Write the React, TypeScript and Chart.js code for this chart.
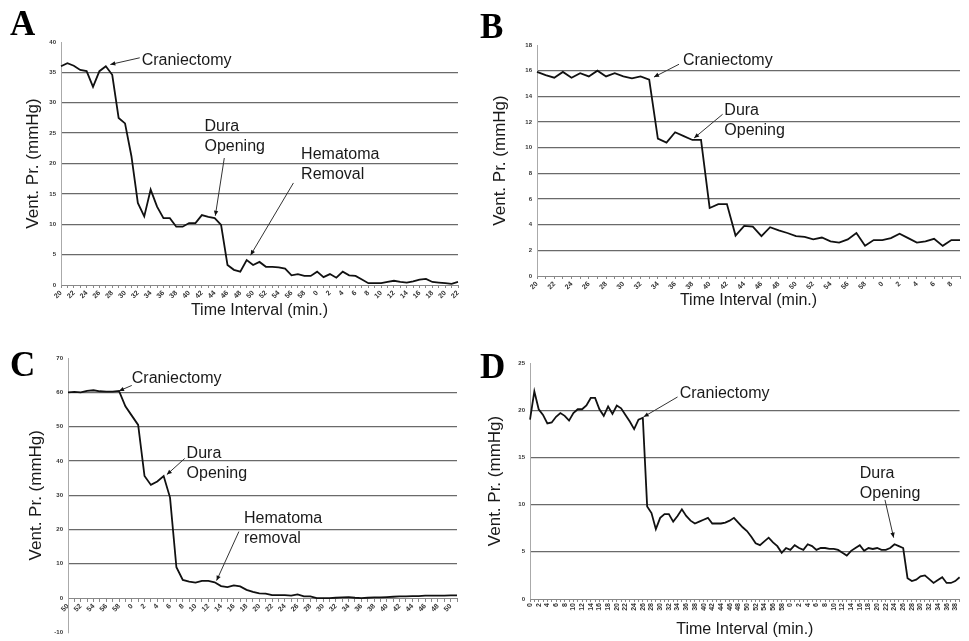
import React, { useEffect, useRef } from 'react';
import { Chart, registerables } from 'chart.js';

Chart.register(...registerables);

// ---------- data ----------
const A_MINUTES = [20,21,22,23,24,25,26,27,28,29,30,31,32,33,34,35,36,37,38,39,40,41,42,43,44,45,46,47,48,49,50,51,52,53,54,55,56,57,58,59,0,1,2,3,4,5,6,7,8,9,10,11,12,13,14,15,16,17,18,19,20,21,22];
const A_VALUES = [36.0,36.5,36.1,35.4,35.2,32.6,35.2,36.0,34.6,27.5,
  26.6,21.2,13.5,11.3,15.7,12.9,11.0,11.0,9.6,9.6,
  10.2,10.2,11.5,11.2,11.0,9.9,3.3,2.5,2.2,4.1,
  3.3,3.8,3.0,3.0,2.9,2.7,1.6,1.8,1.5,1.5,
  2.2,1.3,1.8,1.2,2.2,1.6,1.5,0.9,0.3,0.3,
  0.3,0.5,0.7,0.5,0.4,0.6,0.9,1.0,0.5,0.4,
  0.3,0.2,0.5];
const A_Y_TICKS = [0,5,10,15,20,25,30,35,40];

const B_MINUTES = [20,21,22,23,24,25,26,27,28,29,30,31,32,33,34,35,36,37,38,39,40,41,42,43,44,45,46,47,48,49,50,51,52,53,54,55,56,57,58,59,0,1,2,3,4,5,6,7,8,9];
const B_VALUES = [15.9,15.65,15.45,15.9,15.45,15.8,15.55,16.0,15.55,15.8,
  15.55,15.4,15.55,15.3,10.7,10.4,11.2,10.9,10.6,10.6,
  5.3,5.6,5.6,3.15,3.9,3.85,3.1,3.8,3.55,3.35,
  3.1,3.05,2.85,3.0,2.7,2.6,2.85,3.35,2.35,2.8,
  2.8,2.95,3.3,2.95,2.6,2.7,2.9,2.35,2.8,2.8];
const B_Y_TICKS = [0,2,4,6,8,10,12,14,16,18];

const C_MINUTES = [50,51,52,53,54,55,56,57,58,59,0,1,2,3,4,5,6,7,8,9,10,11,12,13,14,15,16,17,18,19,20,21,22,23,24,25,26,27,28,29,30,31,32,33,34,35,36,37,38,39,40,41,42,43,44,45,46,47,48,49,50,51];
const C_VALUES = [60.0,60.1,60.0,60.4,60.6,60.3,60.2,60.2,60.4,55.9,
  53.2,50.5,35.6,33.0,34.0,35.6,29.3,9.0,5.3,4.8,
  4.5,5.0,5.0,4.6,3.5,3.2,3.7,3.4,2.4,1.8,
  1.4,1.3,0.85,0.85,0.85,0.75,1.1,0.5,0.5,0.0,
  0.0,0.0,0.1,0.2,0.3,0.1,0.0,0.1,0.2,0.2,
  0.3,0.4,0.5,0.5,0.6,0.6,0.7,0.7,0.7,0.7,
  0.8,0.8];
const C_Y_TICKS = [-10,0,10,20,30,40,50,60,70];

const D_MINUTES = [0,1,2,3,4,5,6,7,8,9,10,11,12,13,14,15,16,17,18,19,20,21,22,23,24,25,26,27,28,29,30,31,32,33,34,35,36,37,38,39,40,41,42,43,44,45,46,47,48,49,50,51,52,53,54,55,56,57,58,59,0,1,2,3,4,5,6,7,8,9,10,11,12,13,14,15,16,17,18,19,20,21,22,23,24,25,26,27,28,29,30,31,32,33,34,35,36,37,38,39];
const D_VALUES = [19.0,22.0,20.1,19.5,18.6,18.7,19.3,19.7,19.4,18.9,
  19.7,20.1,20.1,20.5,21.3,21.3,20.1,19.4,20.4,19.6,
  20.5,20.2,19.5,18.8,18.0,19.0,19.2,9.8,9.1,7.4,
  8.6,9.0,9.0,8.2,8.8,9.5,8.8,8.3,8.0,8.2,
  8.4,8.6,8.0,8.0,8.0,8.1,8.3,8.6,8.1,7.6,
  7.2,6.6,5.9,5.7,6.1,6.5,6.0,5.6,4.9,5.4,
  5.2,5.7,5.4,5.2,5.8,5.6,5.2,5.4,5.4,5.3,
  5.3,5.2,4.9,4.6,5.1,5.4,5.7,5.1,5.4,5.3,
  5.4,5.2,5.2,5.4,5.8,5.6,5.4,2.2,1.9,2.05,
  2.4,2.5,2.1,1.7,2.0,2.3,1.7,1.7,1.9,2.3];
const D_Y_TICKS = [0,5,10,15,20,25];

// annotations: text anchor, arrow start and arrow tip, in data coordinates (index, value)
const A_NOTES = [
  { lines: ['Craniectomy'], at: [12.6, 37.0], from: [12.3, 37.4], to: [7.7, 36.3] },
  { lines: ['Dura', 'Opening'], at: [22.4, 26.0], from: [25.5, 20.9], to: [24.1, 11.4] },
  { lines: ['Hematoma', 'Removal'], at: [37.5, 21.4], from: [36.3, 16.8], to: [29.6, 4.9] },
];
const B_NOTES = [
  { lines: ['Craniectomy'], at: [16.9, 16.8], from: [16.45, 16.5], to: [13.55, 15.5] },
  { lines: ['Dura', 'Opening'], at: [21.7, 12.9], from: [21.5, 12.6], to: [18.2, 10.75] },
];
const C_NOTES = [
  { lines: ['Craniectomy'], at: [10.0, 64.0], from: [10.0, 62.0], to: [8.0, 60.4] },
  { lines: ['Dura', 'Opening'], at: [18.6, 42.0], from: [18.3, 40.7], to: [15.5, 36.0] },
  { lines: ['Hematoma', 'removal'], at: [27.6, 23.2], from: [26.8, 19.4], to: [23.3, 5.1] },
];
const D_NOTES = [
  { lines: ['Craniectomy'], at: [34.5, 21.8], from: [34.0, 21.4], to: [26.2, 19.3] },
  { lines: ['Dura', 'Opening'], at: [76.0, 13.3], from: [81.8, 10.5], to: [83.8, 6.5] },
];

// ---------- drawing ----------
const FONT = "'Liberation Sans', Arial, sans-serif";

const notesPlugin = {
  id: 'notes',
  afterDatasetsDraw(chart: any, _args: any, opts: any) {
    const items = (opts && opts.items) || [];
    const { ctx } = chart;
    const xs = chart.scales.x;
    const ys = chart.scales.y;
    ctx.save();
    items.forEach((n: any) => {
      const x1 = xs.getPixelForValue(n.from[0]);
      const y1 = ys.getPixelForValue(n.from[1]);
      const x2 = xs.getPixelForValue(n.to[0]);
      const y2 = ys.getPixelForValue(n.to[1]);
      ctx.strokeStyle = '#333';
      ctx.lineWidth = 1;
      ctx.beginPath();
      ctx.moveTo(x1, y1);
      ctx.lineTo(x2, y2);
      ctx.stroke();
      const ang = Math.atan2(y2 - y1, x2 - x1);
      const L = 5, W = 2.2;
      ctx.fillStyle = '#111';
      ctx.beginPath();
      ctx.moveTo(x2, y2);
      ctx.lineTo(x2 - L * Math.cos(ang) + W * Math.sin(ang), y2 - L * Math.sin(ang) - W * Math.cos(ang));
      ctx.lineTo(x2 - L * Math.cos(ang) - W * Math.sin(ang), y2 - L * Math.sin(ang) + W * Math.cos(ang));
      ctx.closePath();
      ctx.fill();
      const tx = xs.getPixelForValue(n.at[0]);
      const ty = ys.getPixelForValue(n.at[1]);
      ctx.font = `16px ${FONT}`;
      ctx.fillStyle = '#1a1a1a';
      ctx.textAlign = 'left';
      ctx.textBaseline = 'middle';
      n.lines.forEach((t: string, i: number) => ctx.fillText(t, tx, ty + i * 20));
    });
    ctx.restore();
  },
};

type Panel = {
  minutes: number[];
  values: number[];
  yTicks: number[];
  notes: any[];
  pad: { left: number; top: number; right: number; bottom: number };
  yWidth: number;
  xHeight: number;
  xTitlePad: number;
  yTitlePad: number;
  rot: number;
  xAtZero: boolean;
};

function buildConfig(p: Panel): any {
  const yMin = p.yTicks[0];
  const yMax = p.yTicks[p.yTicks.length - 1];
  const yStep = p.yTicks[1] - p.yTicks[0];
  return {
    type: 'line',
    data: {
      labels: p.minutes.map(String),
      datasets: [{
        data: p.values,
        borderColor: '#111',
        borderWidth: 1.8,
        pointRadius: 0,
        tension: 0,
        fill: false,
      }],
    },
    options: {
      animation: false,
      responsive: false,
      layout: { padding: p.pad },
      plugins: {
        legend: { display: false },
        tooltip: { enabled: false },
        notes: { items: p.notes },
      },
      scales: {
        x: {
          position: p.xAtZero ? { y: 0 } : 'bottom',
          offset: false,
          afterFit: (s: any) => { s.height = p.xHeight; },
          grid: { drawOnChartArea: false, drawTicks: true, tickLength: 3, color: '#888' },
          border: { color: '#888', width: 1 },
          ticks: {
            autoSkip: false,
            maxRotation: p.rot,
            minRotation: p.rot,
            padding: 1,
            color: '#333',
            font: { size: 7, weight: 'bold', family: FONT },
            callback: (_v: any, i: number) => (i % 2 === 0 ? String(p.minutes[i]) : ''),
          },
          title: {
            display: true,
            text: 'Time Interval (min.)',
            color: '#1a1a1a',
            font: { size: 16, family: FONT },
            padding: { top: 0, bottom: p.xTitlePad },
          },
        },
        y: {
          min: yMin,
          max: yMax,
          afterFit: (s: any) => { s.width = p.yWidth; },
          ticks: { stepSize: yStep, padding: 5, color: '#333', font: { size: 6, weight: 'bold', family: FONT } },
          grid: {
            drawTicks: false,
            lineWidth: 1.3,
            color: (c: any) => (c.tick && (c.tick.value >= yMax || c.tick.value <= 0) ? 'rgba(0,0,0,0)' : '#6a6a6a'),
          },
          border: { color: '#aaa' },
          title: {
            display: true,
            text: 'Vent. Pr. (mmHg)',
            color: '#1a1a1a',
            font: { size: 17, family: FONT },
            padding: { top: p.yTitlePad, bottom: 0 },
          },
        },
      },
    },
    plugins: [notesPlugin],
  };
}

const PANELS: { letter: string; left: number; top: number; w: number; h: number; lx: number; ly: number; panel: Panel }[] = [
  {
    letter: 'A', left: 0, top: 0, w: 484, h: 320, lx: 10, ly: 6,
    panel: { minutes: A_MINUTES, values: A_VALUES, yTicks: A_Y_TICKS, notes: A_NOTES,
      pad: { left: 20, top: 42, right: 26, bottom: 0 }, yWidth: 41, xHeight: 35, xTitlePad: 0, yTitlePad: 3, rot: 45, xAtZero: false },
  },
  {
    letter: 'B', left: 484, top: 0, w: 485, h: 320, lx: 480, ly: 9,
    panel: { minutes: B_MINUTES, values: B_VALUES, yTicks: B_Y_TICKS, notes: B_NOTES,
      pad: { left: 2, top: 45, right: 9, bottom: 0 }, yWidth: 51, xHeight: 44, xTitlePad: 10, yTitlePad: 4, rot: 45, xAtZero: false },
  },
  {
    letter: 'C', left: 0, top: 320, w: 484, h: 321, lx: 10, ly: 347,
    panel: { minutes: C_MINUTES, values: C_VALUES, yTicks: C_Y_TICKS, notes: C_NOTES,
      pad: { left: 23, top: 38, right: 27, bottom: 0 }, yWidth: 45, xHeight: 31, xTitlePad: -28.6, yTitlePad: 3, rot: 45, xAtZero: true },
  },
  {
    letter: 'D', left: 484, top: 320, w: 485, h: 321, lx: 480, ly: 349,
    panel: { minutes: D_MINUTES, values: D_VALUES, yTicks: D_Y_TICKS, notes: D_NOTES,
      pad: { left: 0, top: 43, right: 6, bottom: 0 }, yWidth: 46, xHeight: 42, xTitlePad: 1.4, yTitlePad: 1, rot: 90, xAtZero: false },
  },
];

function PanelChart({ cfg }: { cfg: typeof PANELS[number] }) {
  const ref = useRef<HTMLCanvasElement | null>(null);
  useEffect(() => {
    if (!ref.current) return;
    const chart = new Chart(ref.current, buildConfig(cfg.panel));
    return () => chart.destroy();
  }, [cfg]);
  return (
    <canvas
      ref={ref}
      width={cfg.w}
      height={cfg.h}
      style={{ position: 'absolute', left: cfg.left, top: cfg.top, width: cfg.w, height: cfg.h }}
    />
  );
}

export default function App() {
  return (
    <div style={{ position: 'absolute', left: 0, top: 0, width: 969, height: 641, background: '#fff', overflow: 'hidden' }}>
      {PANELS.map((p) => (
        <PanelChart key={p.letter} cfg={p} />
      ))}
      {PANELS.map((p) => (
        <div
          key={'l' + p.letter}
          style={{
            position: 'absolute', left: p.lx, top: p.ly,
            fontFamily: "'Liberation Serif', 'Times New Roman', serif",
            fontWeight: 'bold', fontSize: 35, lineHeight: '35px', color: '#000',
          }}
        >
          {p.letter}
        </div>
      ))}
    </div>
  );
}
